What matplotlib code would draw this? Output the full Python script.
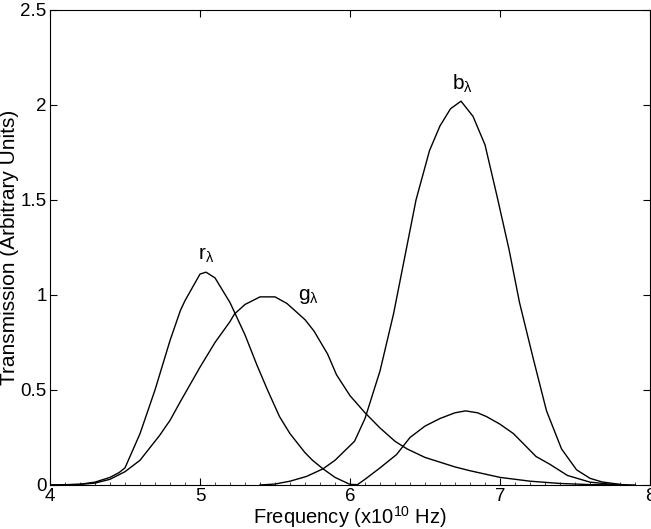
import numpy as np
import matplotlib
matplotlib.use("Agg")
import matplotlib.pyplot as plt
from matplotlib.ticker import MultipleLocator

plt.rcParams.update({
    "font.family": ["Liberation Sans", "DejaVu Sans"],
    "mathtext.fontset": "custom",
    "mathtext.rm": "Liberation Sans",
    "mathtext.it": "Liberation Sans",
    "font.size": 13.5,
})

# r-lambda transmission
r_f = [4.0, 4.1, 4.2, 4.3, 4.4, 4.46, 4.5, 4.6, 4.7, 4.8, 4.87, 4.9, 5.0, 5.04,
       5.1, 5.2, 5.3, 5.38, 5.45, 5.53, 5.6, 5.7, 5.75, 5.82, 5.9, 6.0, 6.05,
       6.1, 6.2, 6.31, 6.4, 6.5, 6.6, 6.7, 6.77, 6.85, 6.91, 7.0, 7.09, 7.24,
       7.33, 7.45, 7.6, 7.75, 7.9]
r_t = [0.0, 0.001, 0.004, 0.015, 0.04, 0.065, 0.09, 0.27, 0.5, 0.76, 0.92, 0.97,
       1.11, 1.12, 1.09, 0.96, 0.79, 0.63, 0.5, 0.36, 0.27, 0.17, 0.13, 0.085,
       0.04, 0.003, 0.002, 0.03, 0.09, 0.16, 0.25, 0.31, 0.35, 0.38, 0.39, 0.38,
       0.36, 0.32, 0.27, 0.15, 0.11, 0.05, 0.015, 0.003, 0.0]

# g-lambda
g_f = [4.0, 4.2, 4.3, 4.4, 4.5, 4.6, 4.73, 4.8, 4.87, 5.0, 5.1, 5.2, 5.23, 5.3,
       5.4, 5.5, 5.58, 5.7, 5.76, 5.85, 5.91, 6.0, 6.1, 6.2, 6.3, 6.38, 6.5,
       6.58, 6.7, 6.8, 7.0, 7.2, 7.4, 7.6, 7.8]
g_t = [0.0, 0.003, 0.01, 0.03, 0.07, 0.13, 0.26, 0.34, 0.44, 0.62, 0.75, 0.86,
       0.9, 0.95, 0.99, 0.99, 0.955, 0.87, 0.81, 0.69, 0.58, 0.47, 0.38, 0.30,
       0.23, 0.19, 0.145, 0.125, 0.095, 0.075, 0.04, 0.02, 0.008, 0.002, 0.0]

# b-lambda
b_f = [5.4, 5.5, 5.6, 5.71, 5.82, 5.9, 6.03, 6.1, 6.2, 6.29, 6.38, 6.44, 6.53,
       6.6, 6.67, 6.74, 6.82, 6.9, 6.98, 7.06, 7.13, 7.22, 7.31, 7.41, 7.51,
       7.6, 7.68, 7.83]
b_t = [0.0, 0.005, 0.02, 0.045, 0.085, 0.13, 0.23, 0.35, 0.6, 0.9, 1.26, 1.5,
       1.76, 1.89, 1.98, 2.02, 1.94, 1.79, 1.52, 1.24, 0.96, 0.67, 0.39, 0.19,
       0.08, 0.035, 0.016, 0.0]

labels = ["r$_{\\mathrm{λ}}$", "g$_{\\mathrm{λ}}$", "b$_{\\mathrm{λ}}$"]
label_pos = [(5.04, 1.21), (5.72, 0.99), (6.75, 2.11)]

fig = plt.figure(figsize=(6.51, 5.29), dpi=100)
ax = fig.add_axes([0.0768, 0.0832, 0.9217, 0.898])

for f, t in [(r_f, r_t), (g_f, g_t), (b_f, b_t)]:
    ax.plot(f, t, "k-", lw=1.0)

for txt, (x, y) in zip(labels, label_pos):
    ax.text(x, y, txt, ha="center", va="center", fontsize=15)

ax.set_xlim(4, 8)
ax.set_ylim(0, 2.5)
ax.set_xticks([4, 5, 6, 7, 8])
ax.set_yticks([0, 0.5, 1, 1.5, 2, 2.5])
ax.set_yticklabels(["0", "0.5", "1", "1.5", "2", "2.5"])
ax.xaxis.set_minor_locator(MultipleLocator(0.1))
ax.tick_params(direction="in", length=5, width=0.8, top=True, right=True, pad=2.5)
ax.tick_params(which="minor", direction="in", length=2, width=0.5, top=False, right=False)
ax.set_xlabel("Frequency (x10$^{10}$ Hz)", fontsize=14.5)
ax.set_ylabel("Transmission (Arbitrary Units)", fontsize=15)
ax.yaxis.set_label_coords(-0.051, 0.5)
ax.xaxis.set_label_coords(0.5, -0.041)
for s in ax.spines.values():
    s.set_linewidth(0.8)

fig.savefig("out.png", dpi=100)
